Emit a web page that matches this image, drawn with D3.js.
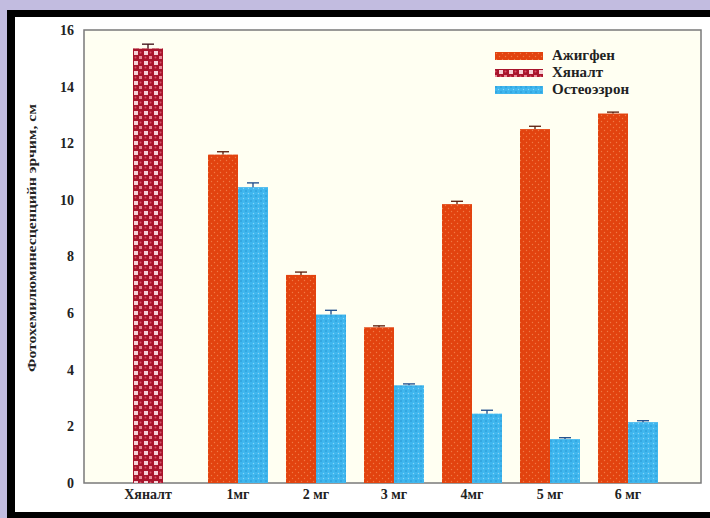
<!DOCTYPE html>
<html>
<head>
<meta charset="utf-8">
<script src="https://cdn.jsdelivr.net/npm/d3@7"></script>
<style>
  body { margin: 0; background: #c2bce0; }
  svg { display: block; }
  svg text { font-family: 'Liberation Serif', 'Times New Roman', 'DejaVu Serif', serif; font-weight: bold; }
</style>
</head>
<body>
<svg id="chart"></svg>
<script>
document.addEventListener("DOMContentLoaded", function() {
    const width = 710;
    const height = 518;

    // data
    const categories = ["Хяналт", "1мг", "2 мг", "3 мг", "4мг", "5 мг", "6 мг"];
    const doses = ["1мг", "2 мг", "3 мг", "4мг", "5 мг", "6 мг"];
    const seriesNames = ["Ажигфен", "Хяналт", "Остеоэзрон"];
    const ajigfen = [11.6, 7.35, 5.5, 9.85, 12.5, 13.05];
    const ajigfenErr = [0.1, 0.1, 0.05, 0.1, 0.1, 0.05];
    const osteo = [10.45, 5.95, 3.45, 2.45, 1.55, 2.15];
    const osteoErr = [0.15, 0.15, 0.05, 0.12, 0.05, 0.05];
    const control = 15.35;
    const controlErr = 0.15;
    const yTicks = [0, 2, 4, 6, 8, 10, 12, 14, 16];
    const yLabel = "Фотохемилюминесценцийн эрчим, см";

    const svg = d3.select("#chart")
        .attr("width", width)
        .attr("height", height);

    // slide frame
    svg.append("rect").attr("x", 7).attr("y", 10).attr("width", width - 7).attr("height", height - 10).attr("fill", "#000");
    svg.append("rect").attr("x", 15).attr("y", 17).attr("width", width - 15).attr("height", 495).attr("fill", "#fff");

    const defs = svg.append("defs");

    // orange fill with faint dots
    const pOrange = defs.append("pattern").attr("id", "pOrange")
        .attr("width", 6).attr("height", 6).attr("patternUnits", "userSpaceOnUse");
    pOrange.append("rect").attr("width", 6).attr("height", 6).attr("fill", "#e2430f");
    pOrange.append("circle").attr("cx", 1.5).attr("cy", 1.5).attr("r", 0.7).attr("fill", "#f07a45");
    pOrange.append("circle").attr("cx", 4.5).attr("cy", 4.5).attr("r", 0.7).attr("fill", "#f07a45");

    // checkered control fill
    const pCheck = defs.append("pattern").attr("id", "pCheck")
        .attr("width", 10).attr("height", 10).attr("patternUnits", "userSpaceOnUse")
        .attr("x", 3);
    pCheck.append("rect").attr("width", 10).attr("height", 10).attr("fill", "#a8152c");
    pCheck.append("rect").attr("x", 1).attr("y", 1).attr("width", 4).attr("height", 4).attr("fill", "#f6d0d6");
    pCheck.append("rect").attr("x", 6).attr("y", 6).attr("width", 3).attr("height", 3).attr("fill", "#e88a98");
    pCheck.append("circle").attr("cx", 7.5).attr("cy", 2.5).attr("r", 1).attr("fill", "#d85068");
    pCheck.append("circle").attr("cx", 2.5).attr("cy", 7.5).attr("r", 1).attr("fill", "#d85068");

    // blue fill with crosshatch dots
    const pBlue = defs.append("pattern").attr("id", "pBlue")
        .attr("width", 5).attr("height", 5).attr("patternUnits", "userSpaceOnUse");
    pBlue.append("rect").attr("width", 5).attr("height", 5).attr("fill", "#3fb6ee");
    pBlue.append("circle").attr("cx", 1).attr("cy", 1).attr("r", 0.7).attr("fill", "#1f8ccc");
    pBlue.append("circle").attr("cx", 3.5).attr("cy", 3.5).attr("r", 0.7).attr("fill", "#86d6f8");

    const fills = {"Ажигфен": "url(#pOrange)", "Хяналт": "url(#pCheck)", "Остеоэзрон": "url(#pBlue)"};
    const errColors = {"Ажигфен": "#5a1a08", "Хяналт": "#3a0810", "Остеоэзрон": "#1a4a8a"};

    const plot = {left: 84, top: 30, right: 701, bottom: 483};

    const y = d3.scaleLinear().domain([0, 16]).range([plot.bottom, plot.top]);
    const x = d3.scaleBand().domain(categories).range([121, 667]).padding(0);
    const x1 = d3.scaleBand().domain(["Ажигфен", "Остеоэзрон"]).range([-30, 30]).padding(0);

    // plot background + frame
    svg.append("rect")
        .attr("x", plot.left).attr("y", plot.top)
        .attr("width", plot.right - plot.left).attr("height", plot.bottom - plot.top)
        .attr("fill", "#fffff2").attr("stroke", "#7a7a7a").attr("stroke-width", 1.5);

    // y axis
    const yAxis = svg.append("g")
        .attr("transform", `translate(${plot.left},0)`)
        .call(d3.axisLeft(y).tickValues(yTicks).tickSize(0).tickPadding(10));
    yAxis.attr("font-family", null);
    yAxis.select(".domain").remove();
    yAxis.selectAll("text")
        .attr("font-size", 14)
        .attr("fill", "#222");

    svg.append("text")
        .attr("transform", `translate(36,238) rotate(-90)`)
        .attr("text-anchor", "middle")
        .attr("font-size", 12)
        .attr("textLength", 268)
        .attr("lengthAdjust", "spacingAndGlyphs")
        .attr("fill", "#222")
        .text(yLabel);

    // x axis labels
    const xAxis = svg.append("g")
        .attr("transform", `translate(0,${plot.bottom})`)
        .call(d3.axisBottom(x).tickSize(0).tickPadding(6));
    xAxis.attr("font-family", null);
    xAxis.select(".domain").remove();
    xAxis.selectAll(".tick")
        .attr("transform", d => `translate(${x(d) + x.bandwidth() / 2 + (d === "Хяналт" ? -12 : 0)},0)`);
    xAxis.selectAll("text")
        .attr("font-size", 14)
        .attr("fill", "#222");

    // bar records
    const bars = [];
    bars.push({cat: "Хяналт", series: "Хяналт", value: control, err: controlErr,
        x0: x("Хяналт") + x.bandwidth() / 2 - 12 - 15, w: 30});
    doses.forEach((d, i) => {
        const c = x(d) + x.bandwidth() / 2;
        bars.push({cat: d, series: "Ажигфен", value: ajigfen[i], err: ajigfenErr[i], x0: c + x1("Ажигфен"), w: x1.bandwidth()});
        bars.push({cat: d, series: "Остеоэзрон", value: osteo[i], err: osteoErr[i], x0: c + x1("Остеоэзрон"), w: x1.bandwidth()});
    });

    const g = svg.append("g");
    g.selectAll("rect.bar")
        .data(bars)
        .enter().append("rect")
        .attr("class", "bar")
        .attr("x", d => d.x0)
        .attr("y", d => y(d.value))
        .attr("width", d => d.w)
        .attr("height", d => y(0) - y(d.value))
        .attr("fill", d => fills[d.series]);

    // error bars
    const eb = g.selectAll("g.err")
        .data(bars)
        .enter().append("g")
        .attr("class", "err")
        .attr("stroke", d => errColors[d.series])
        .attr("stroke-width", 1.3);
    eb.append("line")
        .attr("x1", d => d.x0 + d.w / 2).attr("x2", d => d.x0 + d.w / 2)
        .attr("y1", d => y(d.value)).attr("y2", d => y(d.value + d.err));
    eb.append("line")
        .attr("x1", d => d.x0 + d.w / 2 - 6).attr("x2", d => d.x0 + d.w / 2 + 6)
        .attr("y1", d => y(d.value + d.err)).attr("y2", d => y(d.value + d.err));

    // legend
    const legend = svg.append("g").attr("transform", "translate(495,52)");
    const li = legend.selectAll("g")
        .data(seriesNames)
        .enter().append("g")
        .attr("transform", (d, i) => `translate(0,${i * 17})`);
    li.append("rect")
        .attr("width", 48).attr("height", 8)
        .attr("fill", d => fills[d]);
    li.append("text")
        .attr("x", 57).attr("y", 8)
        .attr("font-size", 15)
        .attr("fill", "#222")
        .text(d => d);
});
</script>
</body>
</html>
